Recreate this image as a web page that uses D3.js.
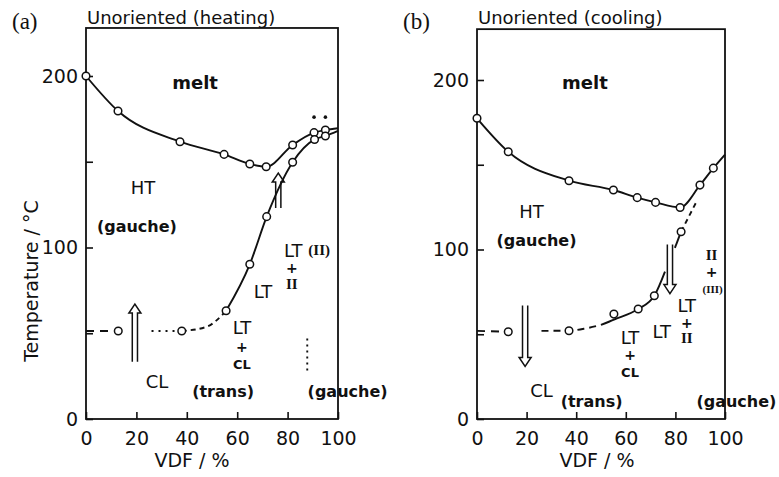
<!DOCTYPE html>
<html>
<head>
<meta charset="utf-8">
<script src="https://cdn.jsdelivr.net/npm/d3@7"></script>
<style>
  body { margin: 0; background: #fff; }
  text { font-family: "DejaVu Sans", sans-serif; fill: #111; }
</style>
</head>
<body>
<svg id="chart" width="779" height="477"></svg>
<script>
// values: [VDF %, temperature °C]
const vdfTicks = [0, 20, 40, 60, 80, 100];
const tempTicks = [0, 50, 100, 150, 200];
const tempLabels = {0: '0', 100: '100', 200: '200'};

// (a) heating
const heatMeltPts = [[0, 200], [12.7, 179.6], [37.3, 161.7], [54.8, 154.3], [65, 148.7], [71.5, 147.1], [82, 159.8], [90.5, 167], [95, 168.5]];
const heatMeltEnd = [100, 169.5];
const heatLtPts = [[12.8, 51.3], [38, 51.3], [55.6, 63.1], [65, 90.2], [71.7, 118], [82, 149.7], [90.7, 163], [95, 165]];
const heatLtEnd = [100, 168];
const heatDash1 = [[0, 51.3], [12.8, 51.3]];
const heatDots = [[26, 51.3], [38, 51.3]];
const heatDash2 = [[38, 51.3], [47.9, 53.8], [55.6, 63.1]];
const heatVertDots = [[87.8, 47], [87.8, 26]];
const heatStars = [[90.5, 176], [95, 176]];
const heatArrows = [[19.4, 33.4, 67], [76.3, 123, 143.4]];   // x, from, to

// (b) cooling
const coolMeltPts = [[0, 177.4], [12.6, 157.7], [37.1, 140.6], [55, 135.1], [64.6, 130.6], [72, 127.8], [81.9, 124.8], [89.9, 138], [95.3, 148]];
const coolMeltEnd = [100, 156];
const coolLtPts = [[12.6, 51.5], [37.1, 52.1], [55.2, 61.9], [65, 64.9], [71.5, 72.7], [82.3, 110.5]];
const coolDash1 = [[0, 52], [12.6, 51.5]];
const coolDash2 = [[26, 52], [37.1, 52.1], [44, 53.5], [50, 55.5]];
const coolSolid1 = [[50, 55.5], [55.5, 58.8], [65, 64.9], [71.5, 72.7], [75.8, 87]];
const coolSolid2 = [[79.8, 101], [82.3, 110.5]];
const coolDash3 = [[82.3, 110.5], [88.7, 128.8]];
const coolArrows = [[19.4, 67, 31], [77.8, 103, 74]];

// annotations: [VDF, temp, text, kind]
const heatNotes = [
  [43.3, 196, 'melt', 'm'], [22.6, 134.7, 'HT', 'n'], [20.2, 112, '(gauche)', 'b'],
  [87.7, 98.5, 'LT|(II)', 'n'], [81.7, 88, '+', 'p'], [81.7, 78.5, 'II', 'r'],
  [70.2, 74.6, 'LT', 'n'], [61.9, 53.5, 'LT', 'n'], [61.9, 42, '+', 'p'], [61.9, 31.5, 'CL', 's'],
  [28.2, 21.6, 'CL', 'n'], [54.4, 16.3, '(trans)', 'b'], [103.8, 16.3, '(gauche)', 'b']
];
const coolNotes = [
  [43.5, 198.4, 'melt', 'm'], [22, 122.3, 'HT', 'n'], [24, 105.6, '(gauche)', 'b'],
  [94.6, 97, 'II', 'r'], [94.6, 86.5, '+', 'p'], [95, 76.5, '(III)', 'rs'],
  [84.6, 67, 'LT', 'n'], [84.6, 56.5, '+', 'p'], [84.6, 47.5, 'II', 'r'],
  [74.5, 51.5, 'LT', 'n'], [61.7, 48, 'LT', 'n'], [61.7, 37.5, '+', 'p'], [61.7, 27.5, 'CL', 's'],
  [26, 17.1, 'CL', 'n'], [46.2, 10.2, '(trans)', 'b'], [104.6, 10.2, '(gauche)', 'b']
];

const svg = d3.select('#chart');

function drawPanel(cfg) {
  const x = d3.scaleLinear().domain([0, 100]).range(cfg.xRange);
  const y = d3.scaleLinear().domain([0, 200]).range(cfg.yRange);
  const g = svg.append('g');

  // frame
  g.append('rect')
    .attr('x', x(0)).attr('y', y(cfg.top))
    .attr('width', x(100) - x(0)).attr('height', y(0) - y(cfg.top))
    .attr('fill', 'none').attr('stroke', '#111').attr('stroke-width', 1.8);

  const yAxis = d3.axisLeft(y).tickValues(tempTicks)
    .tickSizeInner(-7).tickSizeOuter(0).tickPadding(8)
    .tickFormat(d => tempLabels[d] || '');
  const xAxis = d3.axisBottom(x).tickValues(vdfTicks)
    .tickSizeInner(-7).tickSizeOuter(0).tickPadding(13);

  function styleAxis(ax) {
    ax.select('.domain').remove();
    ax.selectAll('.tick line').attr('stroke', '#111').attr('stroke-width', 1.6);
    ax.selectAll('.tick text').style('font-size', '19px').attr('fill', '#111');
  }
  g.append('g').attr('transform', `translate(${x(0)},0)`).call(yAxis).call(styleAxis);
  g.append('g').attr('transform', `translate(0,${y(0)})`).call(xAxis).call(styleAxis);

  // titles
  g.append('text').attr('x', x(0) + 1).attr('y', 24)
    .style('font-size', '18px').text(cfg.title);
  g.append('text').attr('x', cfg.tagX).attr('y', 29)
    .style('font-family', '"Liberation Serif", serif').style('font-size', '23px').text(cfg.tag);
  g.append('text').attr('x', cfg.xLabelX).attr('y', 467).attr('text-anchor', 'middle')
    .style('font-size', '19px').text('VDF / %');

  const line = d3.line().x(d => x(d[0])).y(d => y(d[1])).curve(d3.curveMonotoneX);
  cfg.lines.forEach(([pts, dash]) => {
    g.append('path').datum(pts).attr('d', line)
      .attr('fill', 'none').attr('stroke', '#111').attr('stroke-width', 1.9)
      .attr('stroke-dasharray', dash);
  });

  // double-line arrows
  cfg.arrows.forEach(([ax, from, to]) => {
    const cx = x(ax), y0 = y(from), tip = y(to);
    const dir = tip < y0 ? 1 : -1;
    const hb = tip + dir * 9;
    g.append('path')
      .attr('d', `M${cx - 2.6},${y0}L${cx - 2.6},${hb}L${cx - 6},${hb}L${cx},${tip}L${cx + 6},${hb}L${cx + 2.6},${hb}L${cx + 2.6},${y0}`)
      .attr('fill', 'none').attr('stroke', '#111').attr('stroke-width', 1.5);
  });

  g.selectAll('circle.pt').data(cfg.points).enter().append('circle')
    .attr('class', 'pt')
    .attr('cx', d => x(d[0])).attr('cy', d => y(d[1])).attr('r', 3.8)
    .attr('fill', '#fff').attr('stroke', '#111').attr('stroke-width', 1.5);

  g.selectAll('circle.star').data(cfg.stars || []).enter().append('circle')
    .attr('class', 'star')
    .attr('cx', d => x(d[0])).attr('cy', d => y(d[1])).attr('r', 1.8)
    .attr('fill', '#111');

  const serif = '"Liberation Serif", serif';
  cfg.notes.forEach(([nx, ny, t, kind]) => {
    const txt = g.append('text').attr('x', x(nx)).attr('y', y(ny))
      .attr('text-anchor', 'middle').attr('dominant-baseline', 'central');
    if (kind === 'b') txt.style('font-size', '16px').style('font-weight', 'bold');
    else if (kind === 'm') txt.style('font-size', '18px').style('font-weight', '600');
    else if (kind === 'p') txt.style('font-size', '14px').style('font-weight', 'bold');
    else if (kind === 's') txt.style('font-size', '13px').style('font-weight', 'bold');
    else if (kind === 'r') txt.style('font-family', serif).style('font-size', '15px').style('font-weight', 'bold');
    else if (kind === 'rs') txt.style('font-family', serif).style('font-size', '11px').style('font-weight', 'bold');
    else txt.style('font-size', '18px');
    if (t.includes('|')) {
      const [a, b] = t.split('|');
      txt.append('tspan').text(a + ' ');
      txt.append('tspan').style('font-family', serif).style('font-weight', 'bold').style('font-size', '15px').text(b);
    } else {
      txt.text(t);
    }
  });
}

drawPanel({
  xRange: [86, 338], yRange: [419, 76], top: 228,
  title: 'Unoriented (heating)', tag: '(a)', tagX: 12, xLabelX: 192,
  points: heatMeltPts.concat(heatLtPts),
  stars: heatStars,
  lines: [
    [heatMeltPts.concat([heatMeltEnd]), null],
    [heatLtPts.slice(2).concat([heatLtEnd]), null],
    [heatDash1, '8,6'], [heatDots, '2,5'], [heatDash2, '5,4'], [heatVertDots, '2,4']
  ],
  arrows: heatArrows, notes: heatNotes
});

drawPanel({
  xRange: [477, 725], yRange: [419, 80], top: 230,
  title: 'Unoriented (cooling)', tag: '(b)', tagX: 403, xLabelX: 597,
  points: coolMeltPts.concat(coolLtPts),
  lines: [
    [coolMeltPts.concat([coolMeltEnd]), null],
    [coolDash1, '8,6'], [coolDash2, '7,5'], [coolSolid1, null], [coolSolid2, null], [coolDash3, '5,4']
  ],
  arrows: coolArrows, notes: coolNotes
});

// y axis title (only on panel a)
svg.append('text').attr('transform', 'translate(31,281) rotate(-90)')
  .attr('text-anchor', 'middle').attr('dominant-baseline', 'central')
  .style('font-size', '19px').text('Temperature / °C');
</script>
</body>
</html>
